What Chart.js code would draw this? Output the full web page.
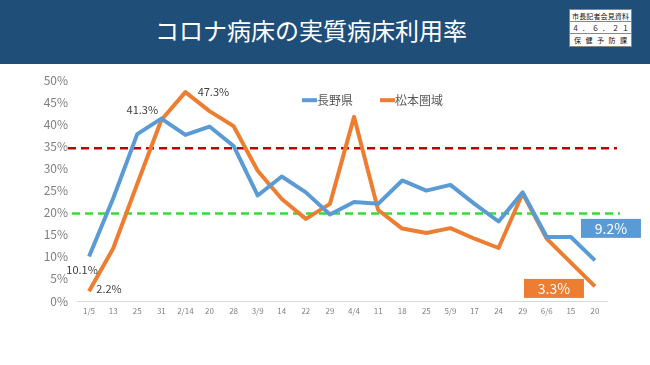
<!DOCTYPE html>
<html><head><meta charset="utf-8">
<script src="https://cdn.jsdelivr.net/npm/chart.js@4.4.1/dist/chart.umd.min.js"></script>
<style>
html,body{margin:0;padding:0;background:#fff;width:650px;height:365px;overflow:hidden;font-family:"Noto Sans CJK JP","Noto Sans",sans-serif;}
#hdr{position:absolute;left:0;top:0;width:650px;height:64px;background:#1f4e79;}
#ttl{position:absolute;left:0;top:13px;width:622px;text-align:center;color:#fff;font-size:24px;line-height:34px;letter-spacing:0px;}
#box{position:absolute;left:569px;top:9px;width:63px;height:38px;background:#fff;box-sizing:border-box;border:1px solid #888;font-size:7px;color:#111;}
#box .r{height:12px;line-height:12px;border-bottom:1px solid #888;display:flex;justify-content:space-between;padding:0 2px;box-sizing:border-box;}
#box .r:last-child{border-bottom:none;}
#wrap{position:absolute;left:0;top:64px;width:650px;height:301px;}
</style></head>
<body>
<div id="hdr"><div id="ttl">コロナ病床の実質病床利用率</div>
<div id="box">
<div class="r"><span>市</span><span>長</span><span>記</span><span>者</span><span>会</span><span>見</span><span>資</span><span>料</span></div>
<div class="r"><span>４</span><span>．</span><span>６</span><span>．</span><span>２</span><span>１</span></div>
<div class="r" style="padding:0 4px"><span>保</span><span>健</span><span>予</span><span>防</span><span>課</span></div>
</div></div>
<div id="wrap"><canvas id="c" width="650" height="301"></canvas></div>
<script>
const categories = ["1/5","13","25","31","2/14","20","28","3/9","14","22","29","4/4","11","18","25","5/9","17","24","29","6/6","15","20"];
const naganoValues = [10.1,23.2,37.8,41.3,37.6,39.5,35.1,23.9,28.2,24.6,19.6,22.4,22.0,27.3,25.0,26.3,22.0,18.0,24.6,14.5,14.5,9.2];
const matsumotoValues = [2.2,11.9,26.5,41.0,47.3,43.0,39.6,29.5,23.1,18.6,22.0,41.7,20.6,16.4,15.4,16.5,14.1,12.0,24.4,14.1,8.7,3.3];
const seriesNames = ["長野県","松本圏域"];
const yTicks = [0,5,10,15,20,25,30,35,40,45,50];
const thresholdRed = 34.6;
const thresholdGreen = 19.8;

const BLUE = "#5b9bd5", ORANGE = "#ed7d31";
const FONT = '"Noto Sans CJK JP","Noto Sans",sans-serif';

const overlay = {
  id: "overlay",
  beforeDatasetsDraw(chart) {
    const {ctx, chartArea, scales} = chart;
    ctx.save();
    ctx.lineWidth = 2.5;
    ctx.setLineDash([8,5]);
    let y = scales.y.getPixelForValue(thresholdRed);
    ctx.strokeStyle = "#c00000";
    ctx.beginPath(); ctx.moveTo(chartArea.left - 9, y); ctx.lineTo(chartArea.right + 10, y); ctx.stroke();
    y = scales.y.getPixelForValue(thresholdGreen);
    ctx.strokeStyle = "#33dd33";
    ctx.beginPath(); ctx.moveTo(chartArea.left - 5, y); ctx.lineTo(chartArea.right + 13, y); ctx.stroke();
    ctx.restore();
  },
  afterDatasetsDraw(chart) {
    const {ctx, chartArea} = chart;
    const m0 = chart.getDatasetMeta(0).data, m1 = chart.getDatasetMeta(1).data;
    const last = m0.length - 1;
    ctx.save();
    ctx.font = "11px " + FONT;
    ctx.fillStyle = "#404040";
    ctx.textAlign = "center"; ctx.textBaseline = "middle";
    const lab = (pt, v, dx, dy) => ctx.fillText(v.toFixed(1) + "%", pt.x + dx, pt.y + dy);
    lab(m0[0], naganoValues[0], -7, 13);
    lab(m1[0], matsumotoValues[0], 20, -2);
    lab(m0[3], naganoValues[3], -19, -9);
    lab(m1[4], matsumotoValues[4], 28, 0);
    const box = (pt, v, dx, dy, color) => {
      const cx = pt.x + dx, cy = pt.y + dy;
      ctx.fillStyle = color;
      ctx.fillRect(cx - 30, cy - 9.5, 60, 19);
      ctx.fillStyle = "#fff";
      ctx.font = "14px " + FONT;
      ctx.fillText(v.toFixed(1) + "%", cx, cy + 0.5);
    };
    box(m0[last], naganoValues[last], 16, -32, BLUE);
    box(m1[last], matsumotoValues[last], -41, 2, ORANGE);
    const lx = chartArea.left + 225, ly = chartArea.top + 20;
    ctx.font = "12px " + FONT;
    ctx.textAlign = "left";
    [[BLUE, seriesNames[0], 0], [ORANGE, seriesNames[1], 78]].forEach(([c, t, off]) => {
      ctx.strokeStyle = c; ctx.lineWidth = 4; ctx.setLineDash([]);
      ctx.beginPath(); ctx.moveTo(lx + off, ly); ctx.lineTo(lx + off + 15, ly); ctx.stroke();
      ctx.fillStyle = "#595959";
      ctx.fillText(t, lx + off + 15, ly);
    });
    ctx.restore();
  }
};

new Chart(document.getElementById("c"), {
  type: "line",
  data: {
    labels: categories,
    datasets: [
      {label: seriesNames[0], data: naganoValues, borderColor: BLUE, backgroundColor: BLUE, borderWidth: 4, pointRadius: 0, tension: 0, borderJoinStyle: "round"},
      {label: seriesNames[1], data: matsumotoValues, borderColor: ORANGE, backgroundColor: ORANGE, borderWidth: 4, pointRadius: 0, tension: 0, borderJoinStyle: "round"}
    ]
  },
  options: {
    responsive: false,
    animation: false,
    layout: {padding: {top: 15, right: 43, left: 0, bottom: 0}},
    plugins: {legend: {display: false}, tooltip: {enabled: false}},
    scales: {
      x: {
        offset: true,
        grid: {display: false, drawTicks: false},
        border: {color: "#d9d9d9", width: 1},
        ticks: {font: {size: 8, family: FONT}, color: "#808080", padding: 5, maxRotation: 0, autoSkip: false},
        afterFit(s) { s.height = 64; }
      },
      y: {
        min: 0, max: 50,
        afterBuildTicks(s) { s.ticks = yTicks.map(v => ({value: v})); },
        grid: {display: false, drawTicks: false},
        border: {display: false},
        ticks: {font: {size: 12, family: FONT}, color: "#7f7f7f", padding: 9, callback: v => v + "%"},
        afterFit(s) { s.width = 77; }
      }
    }
  },
  plugins: [overlay]
});
</script>
</body></html>
